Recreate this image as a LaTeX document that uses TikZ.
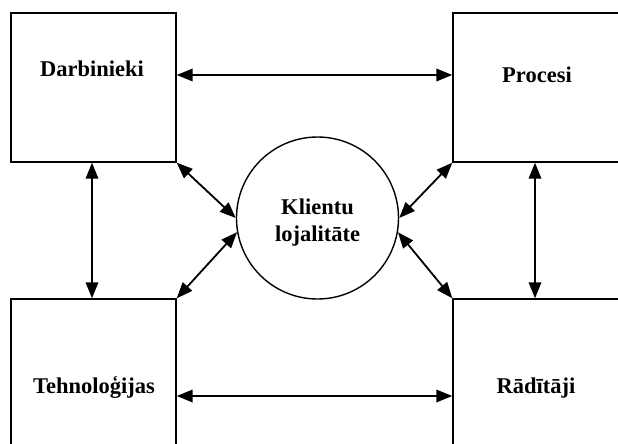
\documentclass[tikz,border=0pt]{standalone}
\usepackage{fontspec}
\setmainfont{Liberation Serif}
\usetikzlibrary{arrows.meta}
\begin{document}
\begin{tikzpicture}[x=1pt,y=-1pt,
  box/.style={draw, line width=1.4pt, rectangle, inner sep=0pt},
  lbl/.style={font=\fontsize{22.5}{27}\selectfont\bfseries, inner sep=0pt},
  tip/.tip={Triangle[length=16pt,width=12.5pt]},
  link/.style={line width=1.8pt, tip-tip}]
\useasboundingbox (0,0) rectangle (618,444);
\clip (0,0) rectangle (618,444);
\node[box, minimum width=165pt, minimum height=149pt] (TL) at (93.5,87.5) {};
\node[box, minimum width=180pt, minimum height=149pt] (TR) at (543,87.5) {};
\node[box, minimum width=165pt, minimum height=160pt] (BL) at (93.5,379) {};
\node[box, minimum width=180pt, minimum height=160pt] (BR) at (543,379) {};
\node[draw, circle, line width=1.4pt, minimum size=162pt, inner sep=0pt] (C) at (317.5,218) {};
\node[lbl, anchor=base] (tD) at (92,77) {Darbinieki};
\node[lbl, anchor=base] (tP) at (537,82) {Procesi};
\node[lbl, anchor=base] (tT) at (94,393) {Tehnoloģijas};
\node[lbl, anchor=base] (tR) at (536,393) {Rādītāji};
\node[lbl, align=center] (tC) at (317.5,223) {Klientu\\lojalitāte};
\draw[link] (TL.east |- 0,75) -- (TR.west |- 0,75);
\draw[link] (BL.east |- 0,396) -- (BR.west |- 0,396);
\draw[link] (TL.south -| 92,0) -- (BL.north -| 92,0);
\draw[link] (TR.south -| 535,0) -- (BR.north -| 535,0);
\draw[link] (TL.south east) -- (C.180);
\draw[link] (BL.north east) -- (C.190);
\draw[link] (TR.south west) -- (C.0);
\draw[link] (BR.north west) -- (C.-10);
\end{tikzpicture}
\end{document}
